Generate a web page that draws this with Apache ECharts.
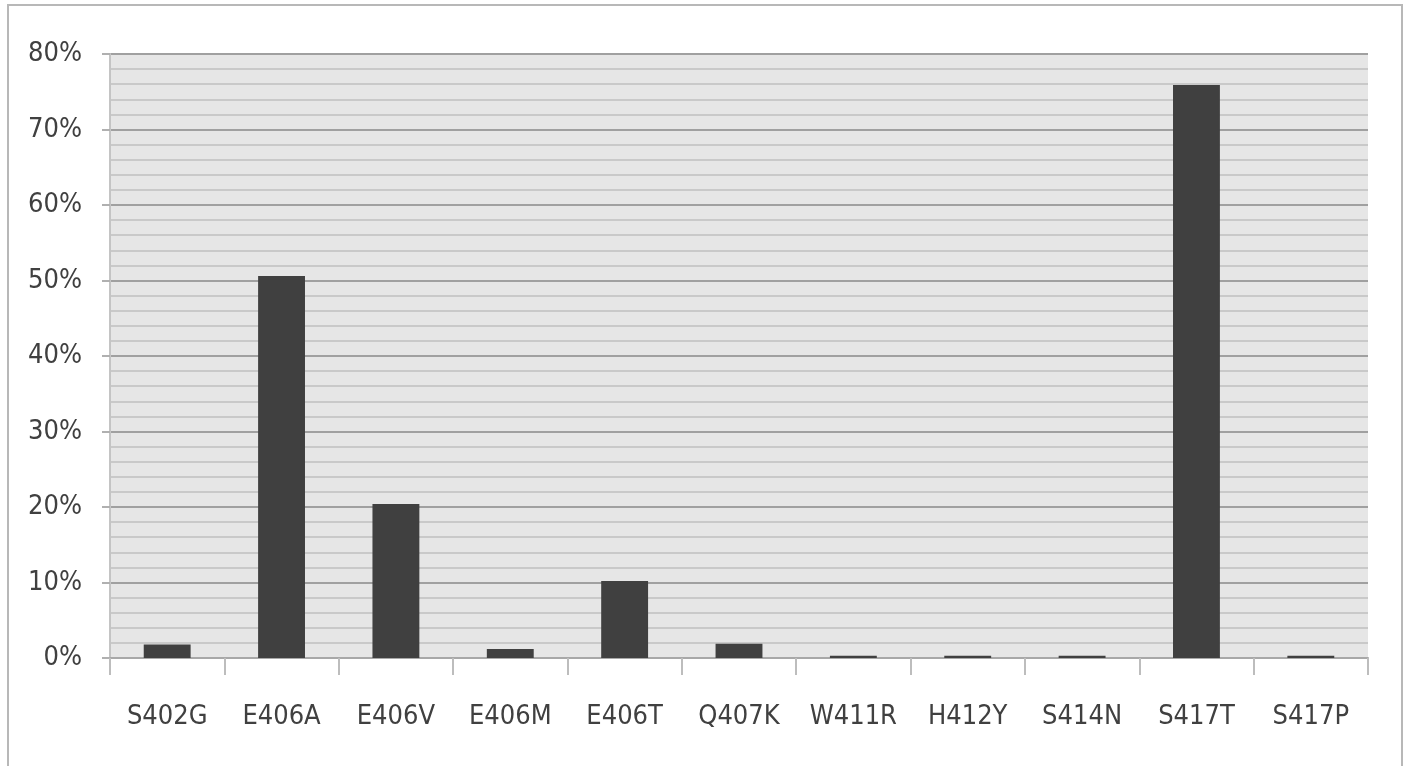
<!DOCTYPE html>
<html>
<head>
<meta charset="utf-8">
<title>Mutation frequency</title>
<script src="https://cdn.jsdelivr.net/npm/echarts@6/dist/echarts.min.js"></script>
<style>
  html, body { margin: 0; padding: 0; background: #fff; }
  #chart { width: 1408px; height: 766px; }
</style>
</head>
<body>
<div id="chart"></div>
<script>
// categories and values (percent)
const mutations = ["S402G", "E406A", "E406V", "E406M", "E406T", "Q407K", "W411R", "H412Y", "S414N", "S417T", "S417P"];
const frequency = [1.8, 50.6, 20.4, 1.2, 10.2, 1.9, 0.3, 0.3, 0.3, 75.9, 0.3];
const yTicks = [0, 10, 20, 30, 40, 50, 60, 70, 80];

const font = '"DejaVu Sans Condensed", "Liberation Sans Narrow", sans-serif';

var myChart = echarts.init(document.getElementById('chart'));

const option = {
  animation: false,
  backgroundColor: '#ffffff',
  graphic: [
    {
      type: 'rect',
      shape: { x: 8, y: 5, width: 1394, height: 790 },
      style: { fill: 'none', stroke: '#b8b8b8', lineWidth: 2 },
      silent: true
    }
  ],
  grid: {
    left: 110,
    right: 40,
    top: 54,
    bottom: 108,
    show: true,
    backgroundColor: '#e6e6e6',
    borderWidth: 0
  },
  xAxis: {
    type: 'category',
    data: mutations,
    boundaryGap: true,
    axisLine: { show: true, lineStyle: { color: '#a8a8a8', width: 2 } },
    axisTick: { show: true, length: 17, lineStyle: { color: '#bdbdbd', width: 2 } },
    axisLabel: {
      color: '#404040',
      fontFamily: font,
      fontSize: 27,
      margin: 45,
      interval: 0
    }
  },
  yAxis: {
    type: 'value',
    min: yTicks[0],
    max: yTicks[yTicks.length - 1],
    interval: 10,
    axisLine: { show: true, lineStyle: { color: '#c4c4c4', width: 2 } },
    axisTick: { show: true, length: 8, lineStyle: { color: '#b0b0b0', width: 2 } },
    axisLabel: {
      color: '#404040',
      fontFamily: font,
      fontSize: 27,
      margin: 28,
      formatter: '{value}%'
    },
    splitLine: { show: true, lineStyle: { color: '#a0a0a0', width: 2 } },
    minorTick: { show: false, splitNumber: 5 },
    minorSplitLine: { show: true, lineStyle: { color: '#c9c9c9', width: 2 } }
  },
  series: [
    {
      type: 'bar',
      data: frequency,
      barWidth: '41%',
      itemStyle: { color: '#404040' }
    }
  ]
};

myChart.setOption(option);
</script>
</body>
</html>
